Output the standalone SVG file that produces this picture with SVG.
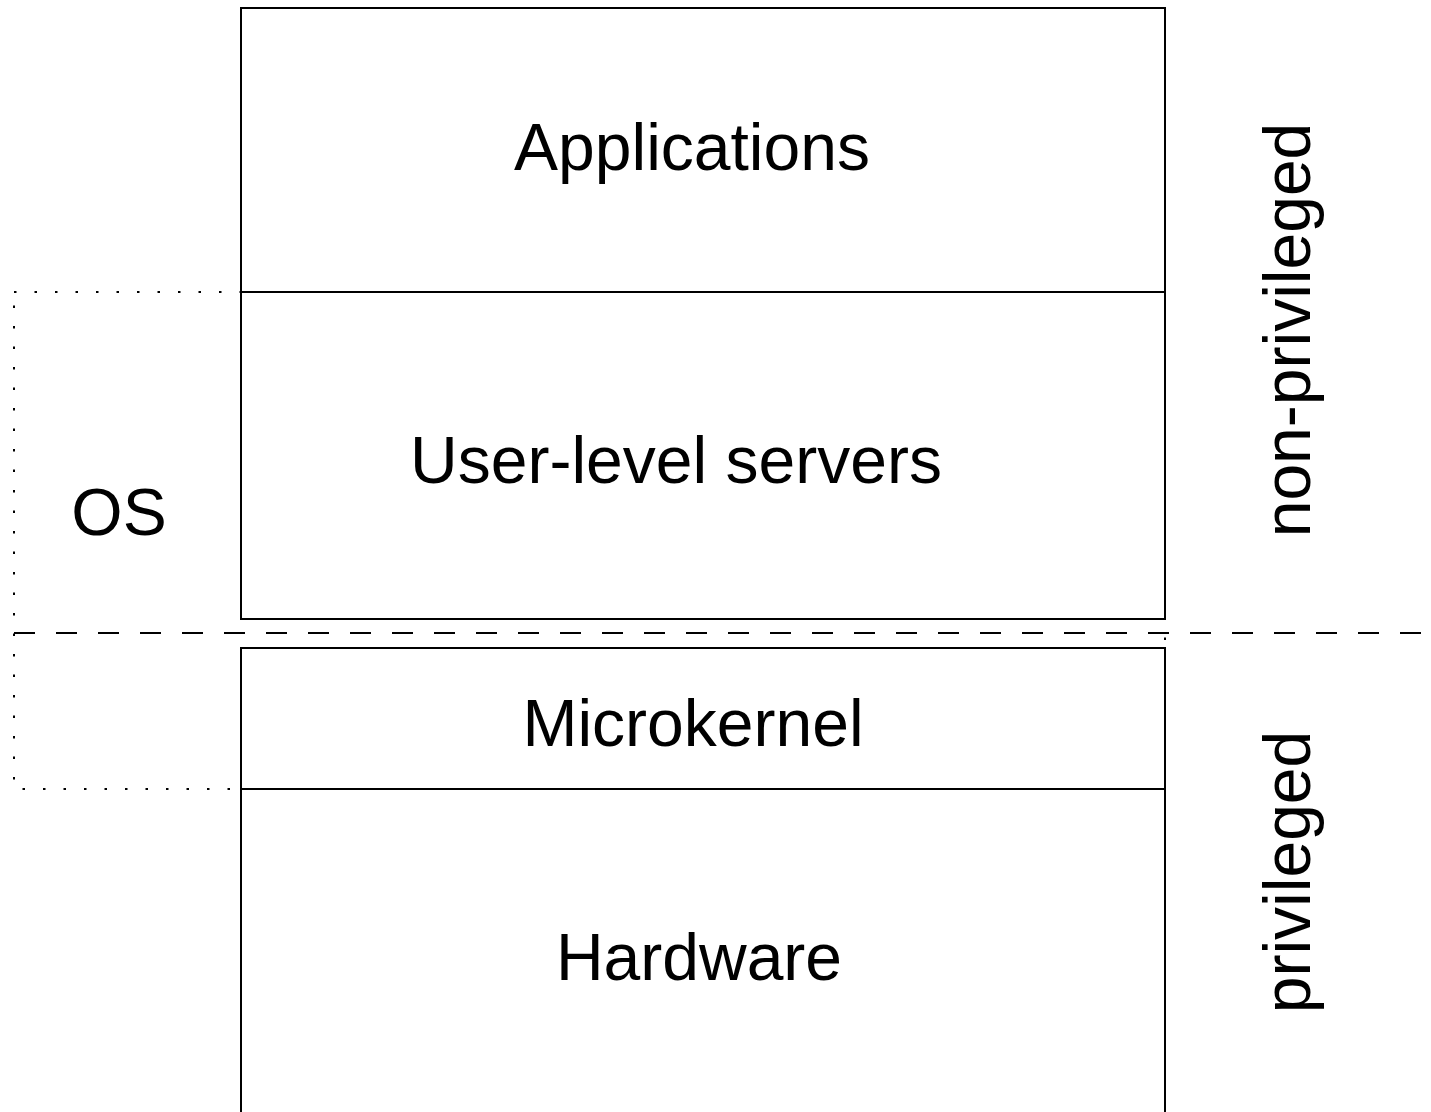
<svg xmlns="http://www.w3.org/2000/svg" width="1431" height="1112" viewBox="0 0 1431 1112">
<style>
.box{fill:none;stroke:#000;stroke-width:2}
.dot{fill:none;stroke:#000;stroke-width:2;stroke-dasharray:2.5 18}
.dash{fill:none;stroke:#000;stroke-width:2;stroke-dasharray:21 21}
text{font-family:"Liberation Sans",Arial,sans-serif;font-size:66px;fill:#000}
</style>
<rect width="1431" height="1112" fill="#fff"/>
<g id="os-region">
<rect class="dot" x="14" y="292" width="1151" height="497"/>
<text x="119" y="535" text-anchor="middle">OS</text>
</g>
<g id="applications">
<rect class="box" x="241" y="8" width="924" height="284"/>
<text x="692" y="170" text-anchor="middle">Applications</text>
</g>
<g id="user-level-servers">
<rect class="box" x="241" y="292" width="924" height="327"/>
<text x="676" y="483" text-anchor="middle">User-level servers</text>
</g>
<g id="microkernel">
<rect class="box" x="241" y="648" width="924" height="141"/>
<text x="693" y="746" text-anchor="middle">Microkernel</text>
</g>
<g id="hardware">
<rect class="box" x="241" y="789" width="924" height="340"/>
<text x="699" y="980" text-anchor="middle">Hardware</text>
</g>
<g id="connectors">
<line class="dash" x1="14" y1="633" x2="1431" y2="633"/>
</g>
<g id="non-privileged">
<text transform="translate(1310,330) rotate(-90)" text-anchor="middle">non-privileged</text>
</g>
<g id="privileged">
<text transform="translate(1310,872) rotate(-90)" text-anchor="middle">privileged</text>
</g>
</svg>
